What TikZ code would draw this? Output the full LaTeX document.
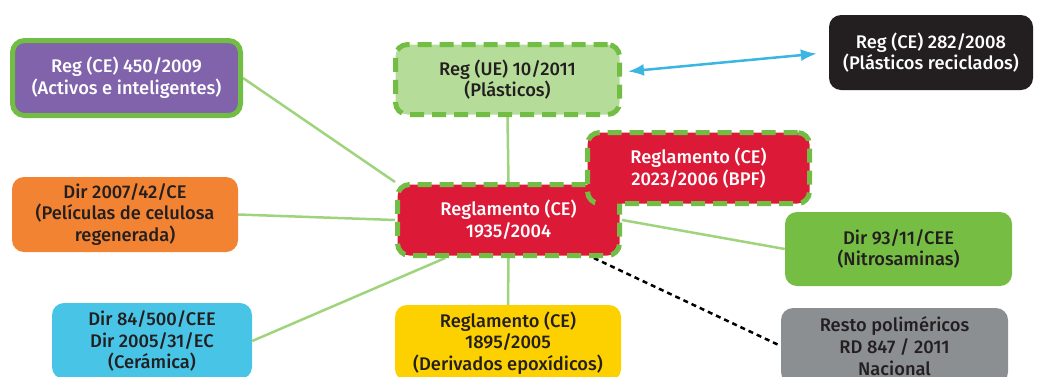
\documentclass[tikz,border=0pt]{standalone}
\usepackage{fontspec}
\setmainfont{Fira Sans}[BoldFont={Fira Sans Medium}]
\usetikzlibrary{arrows.meta,backgrounds}
\definecolor{bordergreen}{HTML}{72BD44}
\definecolor{linegreen}{HTML}{A0D47C}
\definecolor{lightgreen}{HTML}{B5DC98}
\definecolor{regpurple}{HTML}{8063AB}
\definecolor{regblack}{HTML}{231F20}
\definecolor{regred}{HTML}{DC1A38}
\definecolor{regorange}{HTML}{F28332}
\definecolor{reggreen}{HTML}{75BD43}
\definecolor{regcyan}{HTML}{48C5E6}
\definecolor{regyellow}{HTML}{FDD000}
\definecolor{reggray}{HTML}{8C8F91}
\definecolor{arrowblue}{HTML}{3BB5E2}
\begin{document}
\begin{tikzpicture}[x=1pt,y=-1pt,
    box/.style={rounded corners=12pt, align=center, text=regblack,
      font=\bfseries\fontsize{18.3}{21.7}\selectfont, inner sep=0pt},
    solidbox/.style={box, draw=bordergreen, line width=5pt},
    dashbox/.style={box, draw=bordergreen, line width=5pt,
      dash pattern=on 14pt off 8pt},
    link/.style={linegreen, line width=2.5pt}]
  \useasboundingbox (0,0) rectangle (1041,376);
  \clip (0,0) rectangle (1041,376);
  % boxes
  \node[solidbox, fill=regpurple, text=white, minimum width=228pt, minimum height=75pt]
    (activos) at (126.5,78) {Reg (CE) 450/2009\\(Activos e inteligentes)};
  \node[dashbox, fill=lightgreen, minimum width=224pt, minimum height=70pt]
    (plasticos) at (507.5,79.5) {Reg (UE) 10/2011\\(Plásticos)};
  \node[box, fill=regblack, text=white, minimum width=204pt, minimum height=75pt]
    (reciclados) at (931,52.5) {Reg (CE) 282/2008\\(Plásticos reciclados)};
  \node[dashbox, fill=regred, text=white, minimum width=222pt, minimum height=71pt]
    (marco) at (508.5,220) {Reglamento (CE)\\1935/2004};
  \node[dashbox, fill=regred, text=white, minimum width=222pt, minimum height=71pt]
    (bpf) at (698.5,168) {Reglamento (CE)\\2023/2006 (BPF)};
  \fill[regred] (600,199) rectangle (617,208);
  \node[box, fill=regorange, minimum width=226pt, minimum height=75pt]
    (celulosa) at (125,214.5) {Dir 2007/42/CE\\ (Películas de celulosa\\regenerada)};
  \node[box, fill=reggreen, minimum width=227pt, minimum height=74pt]
    (nitro) at (898.5,249) {Dir 93/11/CEE\\(Nitrosaminas)};
  \node[box, fill=regcyan, minimum width=200pt, minimum height=76pt]
    (ceramica) at (152,341) {Dir 84/500/CEE\\Dir 2005/31/EC\\(Cerámica)};
  \node[box, fill=regyellow, minimum width=226pt, minimum height=76pt]
    (epoxi) at (508,343) {Reglamento (CE)\\1895/2005\\(Derivados epoxídicos)};
  \node[box, fill=reggray, minimum width=227pt, minimum height=76pt]
    (resto) at (894.5,346) {Resto poliméricos\\RD 847 / 2011\\Nacional};
  % connectors
  \begin{scope}[on background layer]
    \draw[link] (activos.east) -- (marco.north west);
    \draw[link] (plasticos.south) -- (marco.north);
    \draw[link] (celulosa.east) -- (marco.west);
    \draw[link] (ceramica.east) -- (marco.211);
    \draw[link] (epoxi.north) -- (marco.south);
    \draw[link] (nitro.west) -- (marco.east);
    \draw[line width=2.5pt, dash pattern=on 5pt off 4pt] (marco.-24) -- (resto.west);
  \end{scope}
  \draw[arrowblue, line width=2.5pt, {Latex[length=16pt,width=12pt]}-{Latex[length=16pt,width=12pt]},
    shorten <=6pt, shorten >=12pt] ([yshift=7.5pt]plasticos.east) -- (reciclados.west);
\end{tikzpicture}
\end{document}
